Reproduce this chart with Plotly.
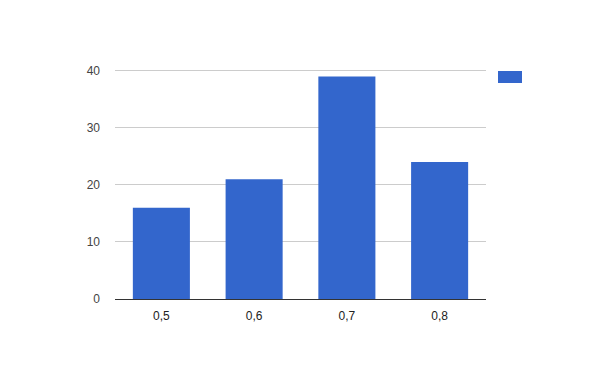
import plotly.graph_objects as go

categories = ["0,5", "0,6", "0,7", "0,8"]
values = [16, 21, 39, 24]
y_ticks = [0, 10, 20, 30, 40]

fig = go.Figure()
fig.add_trace(go.Bar(x=categories, y=values, marker=dict(color="#3366cc", line=dict(width=0)),
                     showlegend=False))

plot_h = 371 - 68 - 72
fig.update_layout(
    width=600, height=371,
    margin=dict(l=115, r=114, t=68, b=72),
    paper_bgcolor="white", plot_bgcolor="white",
    bargap=0.385,
    font=dict(family="Arial, Liberation Sans, sans-serif", size=12, color="#444444"),
    xaxis=dict(showgrid=False, showline=True, linecolor="#333333", linewidth=1,
               ticks="", ticklabelstandoff=6, tickfont=dict(size=12, color="#222222")),
    yaxis=dict(range=[0, 40.5], tickvals=y_ticks, showgrid=True, gridcolor="#cccccc",
               gridwidth=1, zeroline=False, showline=False, ticks="",
               ticklabelstandoff=14, tickfont=dict(size=12, color="#444444")),
)
# legend swatch (legend entry without text)
fig.add_shape(type="rect", xref="paper", yref="paper",
              x0=(498 - 115) / 371, x1=(522 - 115) / 371,
              y0=(299 - 83) / plot_h, y1=(299 - 71) / plot_h,
              fillcolor="#3366cc", line=dict(width=0))

fig.write_html("out.html")
